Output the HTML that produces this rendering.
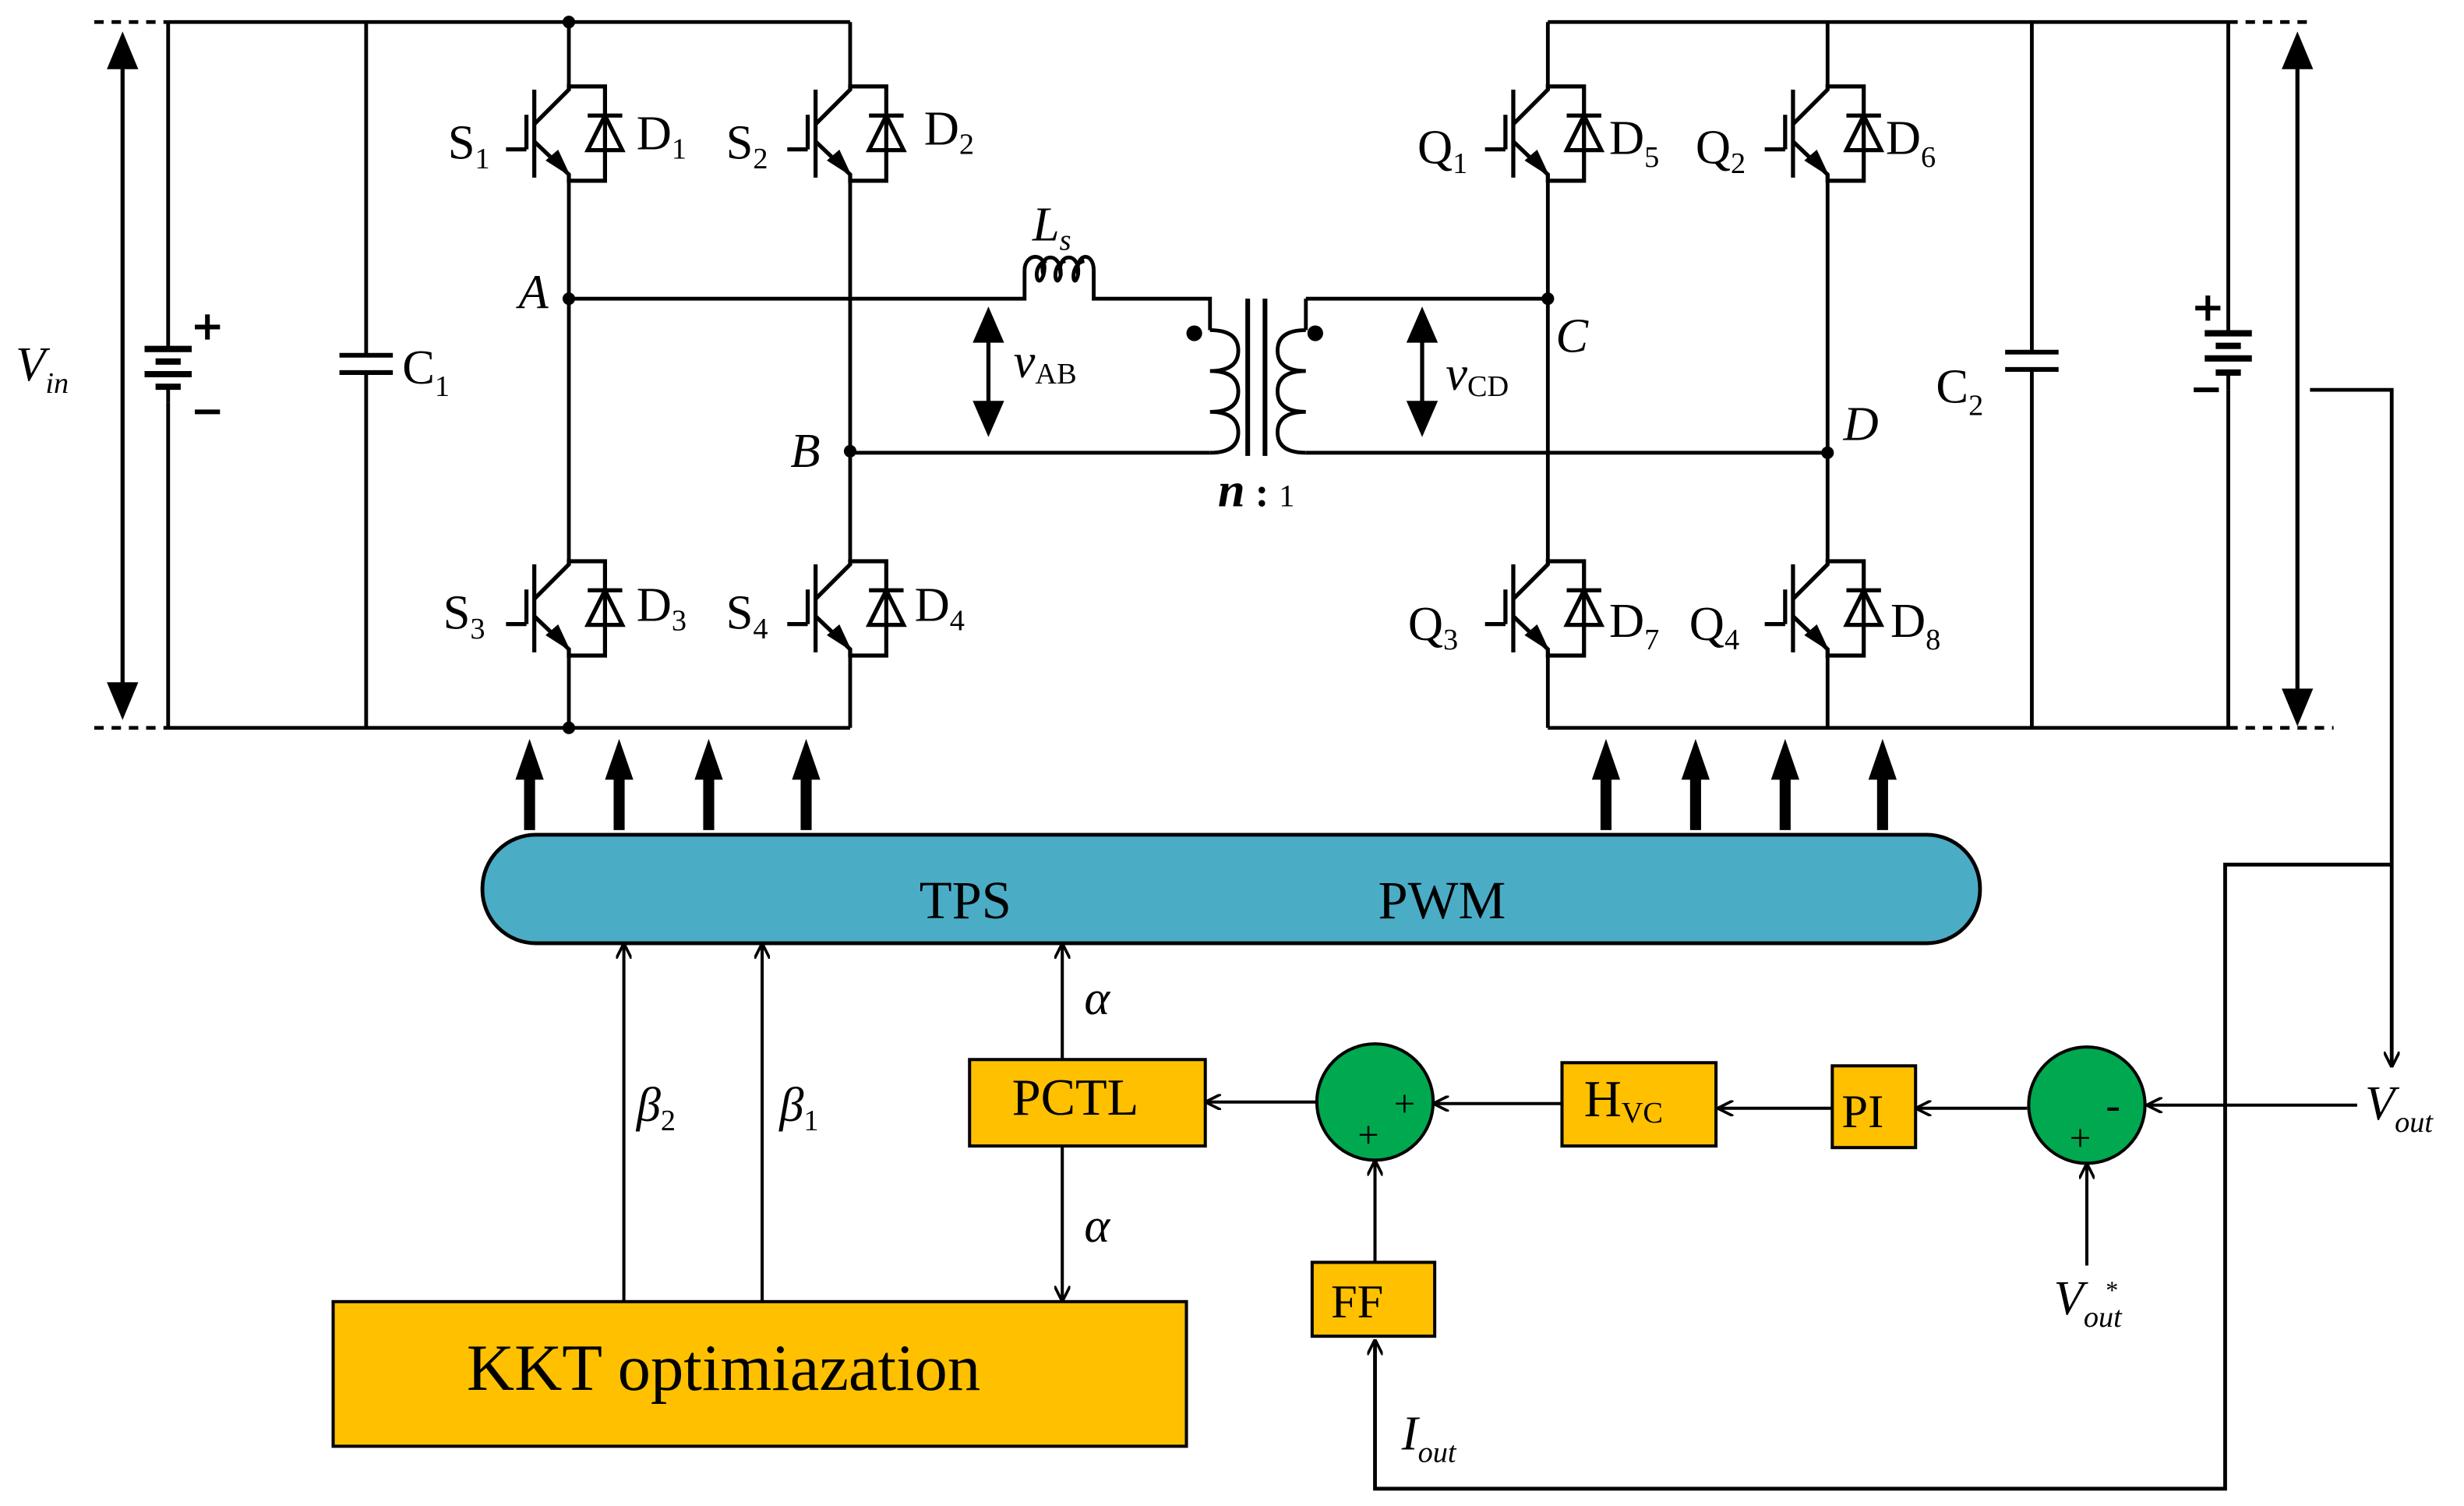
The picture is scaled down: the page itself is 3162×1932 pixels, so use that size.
<!DOCTYPE html>
<html><head><meta charset="utf-8"><style>
html,body{margin:0;padding:0;background:#fff}
svg{display:block}
text{font-family:"Liberation Serif",serif;fill:#000}
</style></head><body>
<svg width="3162" height="1932" viewBox="0 0 1568 958" preserveAspectRatio="none" xmlns="http://www.w3.org/2000/svg">
<defs>
<marker id="ah" markerWidth="10" markerHeight="10" refX="9" refY="5" orient="auto" markerUnits="userSpaceOnUse"><path d="M0,0 L10,5 L0,10" fill="none" stroke="#000" stroke-width="1.8"/></marker>
<g id="sw" stroke="#000" stroke-width="2.6" fill="none">
<line x1="-22" y1="2" x2="-22" y2="58"/>
<line x1="-27" y1="18" x2="-27" y2="40"/>
<line x1="-40" y1="40" x2="-27" y2="40"/>
<polyline points="-22,24 0,2 0,0 23,0 23,60 0,60 0,56 -22,35"/>
<line x1="12" y1="18.5" x2="34" y2="18.5"/>
<polygon points="23,18.5 12,40.5 34,40.5"/>
<polygon points="0,56 -14,47 -7,41" fill="#000" stroke-width="1"/>
</g>
</defs>
<g stroke="#000" stroke-width="2.4" fill="none">
<line x1="107" y1="14" x2="541" y2="14"/>
<line x1="107" y1="463" x2="541" y2="463"/>
<line x1="60" y1="14" x2="107" y2="14" stroke-dasharray="6,5"/>
<line x1="60" y1="463" x2="107" y2="463" stroke-dasharray="6,5"/>
<line x1="107" y1="14" x2="107" y2="222"/>
<line x1="107" y1="256" x2="107" y2="463"/>
<line x1="92" y1="222" x2="122" y2="222" stroke-width="4"/>
<line x1="99" y1="230" x2="115" y2="230" stroke-width="4"/>
<line x1="92" y1="238" x2="122" y2="238" stroke-width="4"/>
<line x1="99" y1="246" x2="115" y2="246" stroke-width="4"/>
<line x1="107" y1="246" x2="107" y2="256"/>
<line x1="124" y1="208" x2="140" y2="208" stroke-width="3"/><line x1="132" y1="200" x2="132" y2="216" stroke-width="3"/>
<line x1="124" y1="262" x2="140" y2="262" stroke-width="3"/>
<line x1="233" y1="14" x2="233" y2="226"/>
<line x1="233" y1="237" x2="233" y2="463"/>
<line x1="216" y1="226" x2="250" y2="226" stroke-width="3"/>
<line x1="216" y1="237" x2="250" y2="237" stroke-width="3"/>
<line x1="362" y1="14" x2="362" y2="55"/>
<line x1="362" y1="115" x2="362" y2="357"/>
<line x1="362" y1="417" x2="362" y2="463"/>
<line x1="541" y1="14" x2="541" y2="55"/>
<line x1="541" y1="115" x2="541" y2="357"/>
<line x1="541" y1="417" x2="541" y2="463"/>
<polyline points="362,190 652,190 652,172"/>
<path d="M652,172 C652,160 668,160 664,175 C660,186 656,168 666,166 M664,175 C660,160 676,160 675,175 C672,186 668,168 678,166 M675,175 C672,160 688,160 686,175 C683,186 680,168 690,166 M686,175 C684,160 696,160 696,172"/>
<polyline points="696,172 696,190 770,190 770,210"/>
<path d="M770,210 q18,0 18,13 q0,13 -18,13 q18,0 18,13 q0,13 -18,13 q18,0 18,13 q0,13 -18,13"/>
<polyline points="770,288 541,288"/>
<line x1="794" y1="190" x2="794" y2="290" stroke-width="3"/>
<line x1="805" y1="190" x2="805" y2="290" stroke-width="3"/>
<polyline points="831,190 831,210"/>
<path d="M831,210 q-18,0 -18,13 q0,13 18,13 q-18,0 -18,13 q0,13 18,13 q-18,0 -18,13 q0,13 18,13"/>
<polyline points="831,190 985,190"/>
<polyline points="831,288 1163,288"/>
<line x1="985" y1="14" x2="985" y2="55"/>
<line x1="985" y1="115" x2="985" y2="357"/>
<line x1="985" y1="417" x2="985" y2="463"/>
<line x1="1163" y1="14" x2="1163" y2="55"/>
<line x1="1163" y1="115" x2="1163" y2="357"/>
<line x1="1163" y1="417" x2="1163" y2="463"/>
<line x1="985" y1="14" x2="1418" y2="14"/>
<line x1="985" y1="463" x2="1418" y2="463"/>
<line x1="1418" y1="14" x2="1470" y2="14" stroke-dasharray="6,5"/>
<line x1="1418" y1="463" x2="1485" y2="463" stroke-dasharray="6,5"/>
<line x1="1293" y1="14" x2="1293" y2="224"/>
<line x1="1293" y1="235" x2="1293" y2="463"/>
<line x1="1276" y1="224" x2="1310" y2="224" stroke-width="3"/>
<line x1="1276" y1="235" x2="1310" y2="235" stroke-width="3"/>
<line x1="1418" y1="14" x2="1418" y2="212"/>
<line x1="1418" y1="248" x2="1418" y2="463"/>
<line x1="1403" y1="212" x2="1433" y2="212" stroke-width="4"/>
<line x1="1410" y1="220" x2="1426" y2="220" stroke-width="4"/>
<line x1="1403" y1="228" x2="1433" y2="228" stroke-width="4"/>
<line x1="1410" y1="237" x2="1426" y2="237" stroke-width="4"/>
<line x1="1418" y1="237" x2="1418" y2="248"/>
<line x1="1397" y1="196" x2="1413" y2="196" stroke-width="3"/><line x1="1405" y1="188" x2="1405" y2="204" stroke-width="3"/>
<line x1="1396" y1="248" x2="1412" y2="248" stroke-width="3"/>
<polyline points="1470,248 1522,248 1522,678" marker-end="url(#ah)"/>
<polyline points="1522,550 1416,550 1416,947 875,947 875,853" marker-end="url(#ah)"/>
<line x1="78" y1="40" x2="78" y2="438" stroke-width="2.6"/>
<line x1="1462" y1="40" x2="1462" y2="440" stroke-width="2.6"/>
<line x1="629" y1="215" x2="629" y2="262" stroke-width="2.6"/>
<line x1="905" y1="215" x2="905" y2="262" stroke-width="2.6"/>
</g>
<g fill="#000">
<polygon points="78,20 68,44 88,44"/><polygon points="78,458 68,434 88,434"/>
<polygon points="1462,20 1452,44 1472,44"/><polygon points="1462,462 1452,438 1472,438"/>
<polygon points="629,195 619,218 639,218"/><polygon points="629,278 619,255 639,255"/>
<polygon points="905,195 895,218 915,218"/><polygon points="905,278 895,255 915,255"/>
<circle cx="362" cy="14" r="4"/><circle cx="362" cy="463" r="4"/>
<circle cx="362" cy="190" r="4"/><circle cx="541" cy="287" r="4"/>
<circle cx="985" cy="190" r="4"/><circle cx="1163" cy="288" r="4"/>
<circle cx="760" cy="212" r="5"/><circle cx="837" cy="212" r="5"/>
</g>
<use href="#sw" x="362" y="55"/><use href="#sw" x="541" y="55"/>
<use href="#sw" x="362" y="357"/><use href="#sw" x="541" y="357"/>
<use href="#sw" x="985" y="55"/><use href="#sw" x="1163" y="55"/>
<use href="#sw" x="985" y="357"/><use href="#sw" x="1163" y="357"/>
<g font-size="31">
<text x="285" y="101">S<tspan font-size="19" dy="6">1</tspan></text>
<text x="405" y="95">D<tspan font-size="19" dy="6">1</tspan></text>
<text x="462" y="101">S<tspan font-size="19" dy="6">2</tspan></text>
<text x="588" y="92">D<tspan font-size="19" dy="6">2</tspan></text>
<text x="282" y="400">S<tspan font-size="19" dy="6">3</tspan></text>
<text x="405" y="395">D<tspan font-size="19" dy="6">3</tspan></text>
<text x="462" y="400">S<tspan font-size="19" dy="6">4</tspan></text>
<text x="582" y="395">D<tspan font-size="19" dy="6">4</tspan></text>
<text x="902" y="104">Q<tspan font-size="19" dy="6">1</tspan></text>
<text x="1024" y="98">D<tspan font-size="19" dy="8">5</tspan></text>
<text x="1079" y="104">Q<tspan font-size="19" dy="6">2</tspan></text>
<text x="1200" y="98">D<tspan font-size="19" dy="8">6</tspan></text>
<text x="896" y="407">Q<tspan font-size="19" dy="6">3</tspan></text>
<text x="1024" y="405">D<tspan font-size="19" dy="8">7</tspan></text>
<text x="1075" y="407">Q<tspan font-size="19" dy="6">4</tspan></text>
<text x="1203" y="405">D<tspan font-size="19" dy="8">8</tspan></text>
<text x="256" y="244">C<tspan font-size="19" dy="8">1</tspan></text>
<text x="1232" y="256">C<tspan font-size="19" dy="8">2</tspan></text>
<text x="10" y="242" font-style="italic">V<tspan font-size="19" dy="8">in</tspan></text>
<text x="330" y="196" font-style="italic">A</text>
<text x="503" y="297" font-style="italic">B</text>
<text x="990" y="224" font-style="italic">C</text>
<text x="1173" y="280" font-style="italic">D</text>
<text x="657" y="153" font-style="italic">L<tspan font-size="19" dy="6">s</tspan></text>
<text x="645" y="240" font-style="italic">v<tspan font-size="19" font-style="normal" dy="4">AB</tspan></text>
<text x="920" y="248" font-style="italic">v<tspan font-size="19" font-style="normal" dy="4">CD</tspan></text>
<text x="775" y="322" font-style="italic" font-weight="bold">n<tspan font-style="normal" font-size="26"> : </tspan><tspan font-size="20" font-style="normal" font-weight="normal">1</tspan></text>
</g>
<g stroke="#000" stroke-width="7">
<line x1="337" y1="528" x2="337" y2="490"/><line x1="394" y1="528" x2="394" y2="490"/>
<line x1="451" y1="528" x2="451" y2="490"/><line x1="513" y1="528" x2="513" y2="490"/>
<line x1="1022" y1="528" x2="1022" y2="490"/><line x1="1079" y1="528" x2="1079" y2="490"/>
<line x1="1136" y1="528" x2="1136" y2="490"/><line x1="1198" y1="528" x2="1198" y2="490"/>
</g>
<g fill="#000">
<polygon points="337,470 328,496 346,496"/><polygon points="394,470 385,496 403,496"/>
<polygon points="451,470 442,496 460,496"/><polygon points="513,470 504,496 522,496"/>
<polygon points="1022,470 1013,496 1031,496"/><polygon points="1079,470 1070,496 1088,496"/>
<polygon points="1136,470 1127,496 1145,496"/><polygon points="1198,470 1189,496 1207,496"/>
</g>
<rect x="307" y="531" width="953" height="69" rx="34" fill="#4bacc6" stroke="#000" stroke-width="2.4"/>
<text x="585" y="584" font-size="34">TPS</text>
<text x="877" y="584" font-size="34">PWM</text>
<g stroke="#000" stroke-width="2" fill="none">
<line x1="397" y1="828" x2="397" y2="601" marker-end="url(#ah)"/>
<line x1="485" y1="828" x2="485" y2="601" marker-end="url(#ah)"/>
<line x1="676" y1="674" x2="676" y2="601" marker-end="url(#ah)"/>
<line x1="676" y1="729" x2="676" y2="827" marker-end="url(#ah)"/>
<line x1="1500" y1="703" x2="1367" y2="703" marker-end="url(#ah)"/>
<line x1="1290" y1="705" x2="1220" y2="705" marker-end="url(#ah)"/>
<line x1="1166" y1="705" x2="1094" y2="705" marker-end="url(#ah)"/>
<line x1="994" y1="702" x2="913" y2="702" marker-end="url(#ah)"/>
<line x1="838" y1="701" x2="768" y2="701" marker-end="url(#ah)"/>
<line x1="1328" y1="805" x2="1328" y2="741" marker-end="url(#ah)"/>
<line x1="875" y1="803" x2="875" y2="739" marker-end="url(#ah)"/>
</g>
<g stroke="#000" stroke-width="2" fill="#ffc000">
<rect x="617" y="674" width="150" height="55"/>
<rect x="994" y="676" width="98" height="53"/>
<rect x="1166" y="678" width="53" height="52"/>
<rect x="835" y="803" width="78" height="47"/>
<rect x="212" y="828" width="543" height="92"/>
</g>
<circle cx="875" cy="701" r="37" fill="#00a84f" stroke="#000" stroke-width="2"/>
<circle cx="1328" cy="703" r="37" fill="#00a84f" stroke="#000" stroke-width="2"/>
<g font-size="31">
<text x="644" y="709" font-size="33">PCTL</text>
<text x="1008" y="710" font-size="33">H<tspan font-size="19" dy="4">VC</tspan></text>
<text x="1172" y="717" font-size="30">PI</text>
<text x="847" y="838" font-size="30">FF</text>
<text x="297" y="884" font-size="42">KKT optimiazation</text>
<text x="690" y="645" font-style="italic">α</text>
<text x="690" y="790" font-style="italic">α</text>
<text x="405" y="713" font-style="italic">β<tspan font-size="19" font-style="normal" dy="6">2</tspan></text>
<text x="496" y="713" font-style="italic">β<tspan font-size="19" font-style="normal" dy="6">1</tspan></text>
<text x="1505" y="712" font-style="italic">V<tspan font-size="19" dy="8">out</tspan></text>
<text x="1307" y="836" font-style="italic">V<tspan font-size="19" dy="8">out</tspan></text>
<text x="1340" y="826" font-size="16">*</text>
<text x="892" y="922" font-style="italic">I<tspan font-size="19" dy="8">out</tspan></text>
<text x="887" y="710" font-size="24">+</text>
<text x="864" y="730" font-size="24">+</text>
<text x="1340" y="712" font-size="28">-</text>
<text x="1317" y="732" font-size="24">+</text>
</g>
</svg>
</body></html>
